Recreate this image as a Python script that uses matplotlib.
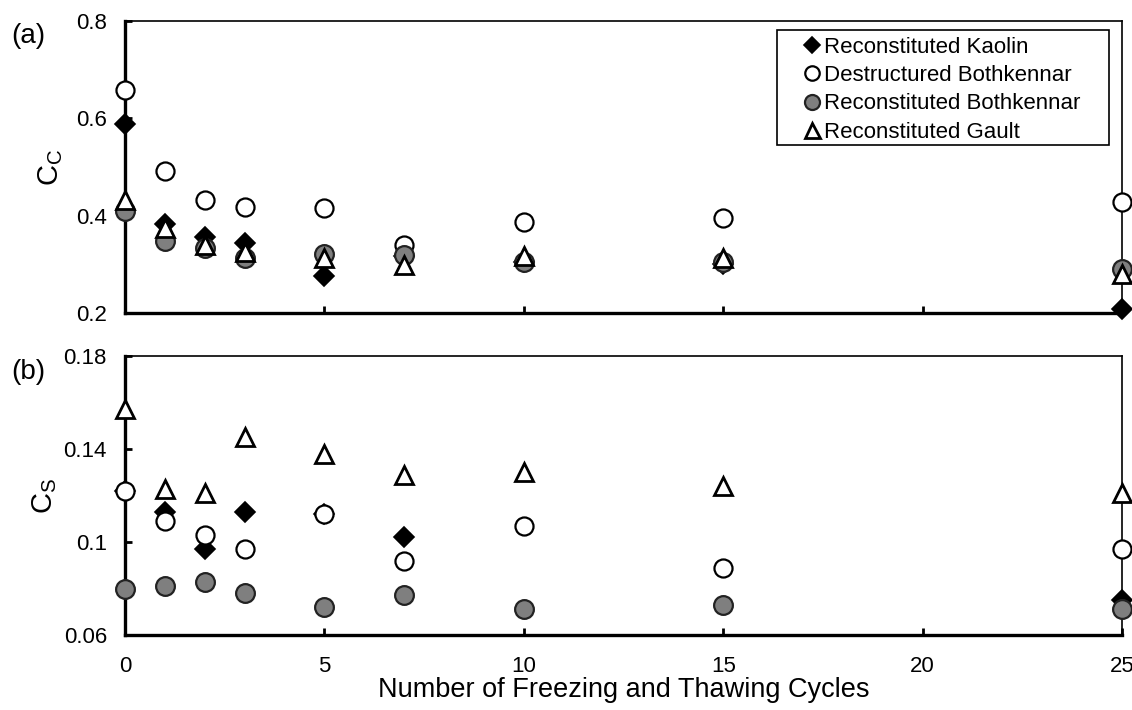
import numpy as np
import matplotlib
matplotlib.use('Agg')
import matplotlib.pyplot as plt
from matplotlib.patches import Rectangle

plt.rcParams['font.family'] = ['Liberation Sans', 'DejaVu Sans']
plt.rcParams['mathtext.fontset'] = 'custom'
plt.rcParams['mathtext.it'] = 'Liberation Sans:italic'
plt.rcParams['mathtext.rm'] = 'Liberation Sans'

cycles = [0, 1, 2, 3, 5, 7, 10, 15, 25]
labels = ['Reconstituted Kaolin', 'Destructured Bothkennar',
          'Reconstituted Bothkennar', 'Reconstituted Gault']

# compression index Cc
cc_kaolin = [0.589, 0.382, 0.356, 0.343, 0.276, 0.318, 0.305, 0.300, 0.209]
cc_destr = [0.658, 0.492, 0.433, 0.417, 0.416, 0.339, 0.387, 0.396, 0.428]
cc_recon = [0.410, 0.348, 0.333, 0.313, 0.322, 0.319, 0.305, 0.304, 0.291]
cc_gault = [0.432, 0.375, 0.340, 0.325, 0.314, 0.298, 0.318, 0.312, 0.281]

# swelling index Cs
cs_kaolin = [0.122, 0.113, 0.097, 0.113, 0.112, 0.102, None, None, 0.075]
cs_destr = [0.122, 0.109, 0.103, 0.097, 0.112, 0.092, 0.107, 0.089, 0.097]
cs_recon = [0.080, 0.081, 0.083, 0.078, 0.072, 0.077, 0.071, 0.073, 0.071]
cs_gault = [0.157, 0.123, 0.121, 0.145, 0.138, 0.129, 0.130, 0.124, 0.121]

styles = [
    dict(marker='D', ms=10, mfc='black', mec='black', mew=1.2),
    dict(marker='o', ms=13, mfc='white', mec='black', mew=1.6),
    dict(marker='o', ms=13.5, mfc='#7f7f7f', mec='#222222', mew=1.6),
    dict(marker='^', ms=13.5, mfc='white', mec='black', mew=2.0),
]
order = [2, 1, 3, 0]  # drawing order (bottom to top)


def draw(ax, series):
    for i in order:
        xs = [c for c, v in zip(cycles, series[i]) if v is not None]
        ys = [v for v in series[i] if v is not None]
        ax.plot(xs, ys, linestyle='none', label=labels[i],
                clip_on=False, zorder=3 + i, **styles[i])
    ax.set_xlim(0, 25)
    ax.set_xticks([0, 5, 10, 15, 20, 25])
    for side in ['left', 'bottom']:
        ax.spines[side].set_linewidth(2.4)
    for side in ['top', 'right']:
        ax.spines[side].set_linewidth(1.2)
    ax.tick_params(direction='in', length=5, width=2, labelsize=16)
    ax.tick_params(axis='y', pad=13)
    ax.tick_params(axis='x', pad=15)


fig = plt.figure(figsize=(11.32, 7.1), dpi=100)
ax1 = fig.add_axes([125 / 1132, 1 - 313 / 710, 997 / 1132, 292 / 710])
ax2 = fig.add_axes([125 / 1132, 1 - 635 / 710, 997 / 1132, 279 / 710])

draw(ax1, [cc_kaolin, cc_destr, cc_recon, cc_gault])
ax1.set_ylim(0.2, 0.8)
ax1.set_yticks([0.2, 0.4, 0.6, 0.8])
ax1.set_yticklabels(['0.2', '0.4', '0.6', '0.8'])
ax1.tick_params(axis='x', labelbottom=False)
ax1.set_ylabel(r'$\mathrm{C_C}$', fontsize=21, labelpad=8)

draw(ax2, [cs_kaolin, cs_destr, cs_recon, cs_gault])
ax2.set_ylim(0.06, 0.18)
ax2.set_yticks([0.06, 0.1, 0.14, 0.18])
ax2.set_yticklabels(['0.06', '0.1', '0.14', '0.18'])
ax2.set_ylabel(r'$\mathrm{C_S}$', fontsize=21, labelpad=3)
ax2.set_xlabel('Number of Freezing and Thawing Cycles', fontsize=19.5,
               labelpad=0)

handles, labs = ax1.get_legend_handles_labels()
idx = [labs.index(l) for l in labels]
leg = ax1.legend([handles[i] for i in idx], labels, loc='upper left',
                 bbox_to_anchor=((800 - 125) / 997, (313 - 30) / 292),
                 fontsize=16, frameon=False,
                 handlelength=0.5, handletextpad=0.3, borderpad=0.3,
                 labelspacing=0.33, markerscale=0.8, borderaxespad=0)
# legend frame drawn separately (wider side margins than matplotlib gives)
ax1.add_patch(Rectangle(((777 - 125) / 997, (313 - 145) / 292),
                        332 / 997, 115 / 292, transform=ax1.transAxes,
                        fill=False, edgecolor='black', linewidth=1.2,
                        zorder=10, clip_on=False))

fig.text(11 / 1132, 1 - 36 / 710, '(a)', fontsize=20, va='center')
fig.text(11 / 1132, 1 - 372 / 710, '(b)', fontsize=20, va='center')

fig.savefig('out.png', dpi=100)
